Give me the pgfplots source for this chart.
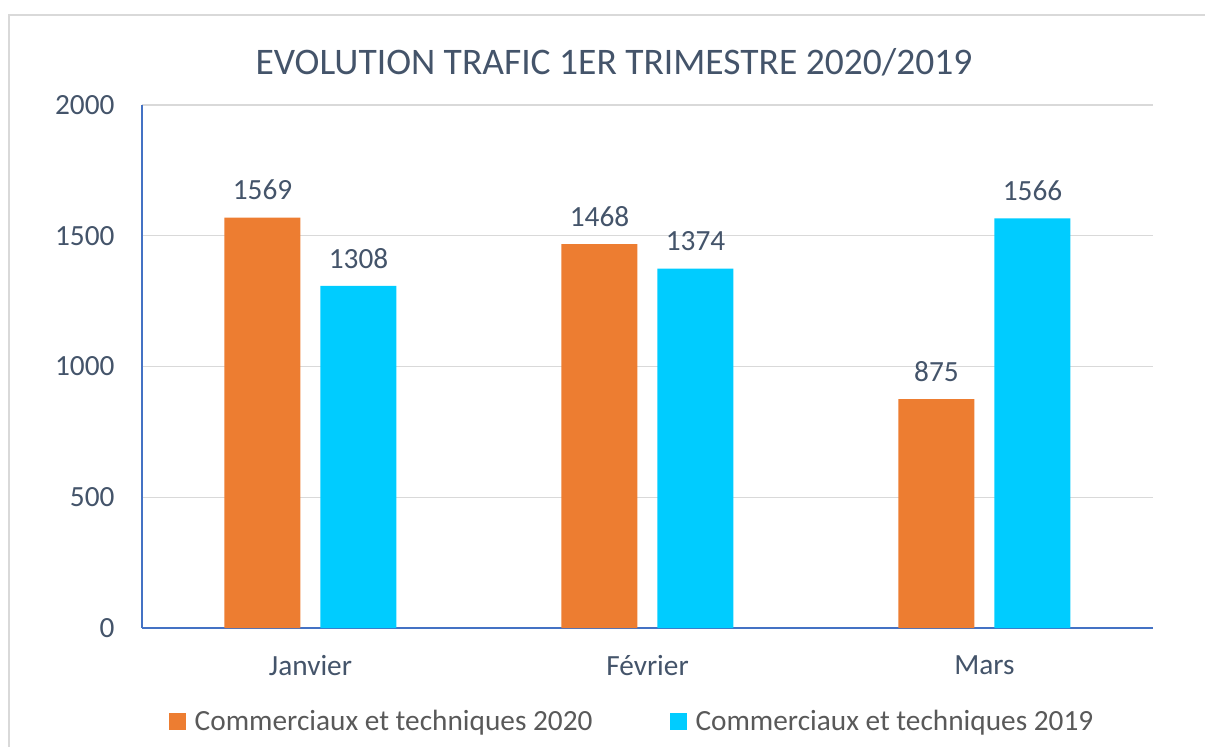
\documentclass[border=0pt]{standalone}
\usepackage{pgfplots}
\pgfplotsset{compat=1.18}
\usepackage{fontspec}
\setmainfont{Carlito}
\definecolor{orangebar}{HTML}{ED7D31}
\definecolor{cyanbar}{HTML}{00CCFF}
\definecolor{txt}{HTML}{44546A}
\definecolor{legtxt}{HTML}{595959}
\definecolor{gridc}{HTML}{D9D9D9}
\definecolor{axisblue}{HTML}{4472C4}
\begin{document}
\begin{tikzpicture}
\useasboundingbox (-142bp,-119bp) rectangle (1063bp,628bp);
\draw[gridc, line width=2bp] (-133bp,-119bp) -- (-133bp,613bp) -- (1063bp,613bp);
\begin{axis}[
  scale only axis,
  width=1011bp, height=523bp,
  xmin=-0.5, xmax=2.5,
  ymin=0, ymax=2000,
  xtick={0,1,2},
  xticklabels={Janvier,Février,Mars},
  ytick={0,500,1000,1500,2000},
  major tick length=0pt,
  axis x line*=bottom, axis y line*=left,
  axis line style={-, draw=axisblue, line width=1.2bp},
  ymajorgrids,
  grid style={gridc, line width=1.2bp},
  /pgf/number format/assume math mode=true,
  /pgf/number format/1000 sep={},
  tick label style={font=\fontsize{29.3bp}{33bp}\selectfont, text=txt},
  yticklabel style={xshift=-24bp},
  xticklabel style={yshift=-24bp},
  ybar,
  bar width=76bp,
  nodes near coords,
  every node near coord/.append style={font=\fontsize{29.3bp}{33bp}\selectfont, text=txt, yshift=14bp},
  title={EVOLUTION TRAFIC 1ER TRIMESTRE 2020/2019},
  title style={at={(0.4669,1.071)}, anchor=center, font=\fontsize{37.5bp}{42bp}\selectfont, text=txt},
  legend columns=2,
  legend style={at={(0.4847,-0.178)}, anchor=center, draw=none, fill=none,
    font=\fontsize{29.3bp}{33bp}\selectfont, text=legtxt,
    /tikz/every even column/.append style={column sep=75bp},
    inner sep=0pt},
  legend image code/.code={\fill[#1,draw=none] (0bp,-8.5bp) rectangle (17bp,8.5bp);\path (24bp,0bp);},
]
\addplot[fill=orangebar, draw=none, bar shift=-48bp] coordinates {(0,1569) (1,1468) (2,875)};
\addlegendentry{Commerciaux et techniques 2020}
\addplot[fill=cyanbar, draw=none, bar shift=48bp] coordinates {(0,1308) (1,1374) (2,1566)};
\addlegendentry{Commerciaux et techniques 2019}
\end{axis}
\end{tikzpicture}
\end{document}
